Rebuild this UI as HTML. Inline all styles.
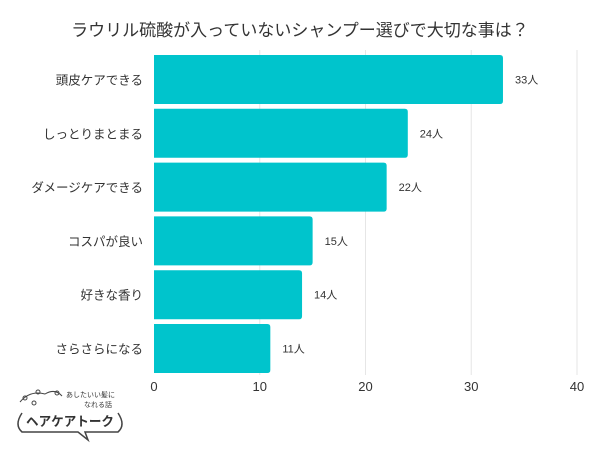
<!DOCTYPE html>
<html><head><meta charset="utf-8">
<style>
body{margin:0;background:#fff;width:600px;height:450px;overflow:hidden;font-family:"Liberation Sans","Noto Sans CJK JP",sans-serif;}
</style></head>
<body>
<svg width="600" height="450" id="chart">
<text x="300" y="36" text-anchor="middle" font-size="17" fill="#333">ラウリル硫酸が入っていないシャンプー選びで大切な事は？</text>
<g id="grid"></g><g id="bars"></g><g id="labels"></g>
<g>
<path d="M22 413 Q14 425 22 432 L78 432 L88 440 L85 432 L118 432 Q126 425 118 413" fill="none" stroke="#444" stroke-width="1.5"/>
<circle cx="25" cy="398" r="2" fill="none" stroke="#444"/><circle cx="38" cy="392" r="2" fill="none" stroke="#444"/><circle cx="34" cy="403" r="2" fill="none" stroke="#444"/><circle cx="57" cy="393" r="2" fill="none" stroke="#444"/>
<path d="M20 402 Q30 390 45 394 Q55 388 62 396" fill="none" stroke="#444"/>
<text x="66" y="397" font-size="7" fill="#333">あしたいい髪に</text>
<text x="84" y="407" font-size="7" fill="#333">なれる話</text>
<text x="26" y="426" font-size="13" font-weight="bold" fill="#333" textLength="88" lengthAdjust="spacingAndGlyphs">ヘアケアトーク</text>
</g>
</svg>
<script>
const categories=["頭皮ケアできる","しっとりまとまる","ダメージケアできる","コスパが良い","好きな香り","さらさらになる"];
const values=[33,24,22,15,14,11];
const ticks=[0,10,20,30,40];
const x0=154,x1=577,xmax=40;
const xs=v=>x0+(x1-x0)*v/xmax;
const yTop=55,step=53.8,bh=49;
const ns="http://www.w3.org/2000/svg";
const g=document.getElementById('grid'),b=document.getElementById('bars'),l=document.getElementById('labels');
function mk(t,a){const e=document.createElementNS(ns,t);for(const k in a)e.setAttribute(k,a[k]);return e;}
ticks.forEach(t=>{
 if(t>0){const ln=mk('line',{x1:xs(t),x2:xs(t),y1:50,y2:375,stroke:'#e6e6e6','stroke-width':1});
 
 g.appendChild(ln);}
 const tx=mk('text',{x:xs(t),y:391,'text-anchor':'middle','font-size':13,fill:'#333'});tx.textContent=t;
 
 l.appendChild(tx);
});
categories.forEach((c,i)=>{
 const y=yTop+i*step,w=xs(values[i])-x0;
 const r=mk('path',{d:`M${x0} ${y} H${x0+w-3} Q${x0+w} ${y} ${x0+w} ${y+3} V${y+bh-3} Q${x0+w} ${y+bh} ${x0+w-3} ${y+bh} H${x0} Z`,fill:'#00C4CC'});
 
 b.appendChild(r);
 const cl=mk('text',{x:143,y:y+bh/2+5,'text-anchor':'end','font-size':12.5,fill:'#333'});cl.textContent=c;
 
 l.appendChild(cl);
 const vl=mk('text',{x:x0+w+12,y:y+bh/2+4,'font-size':11,fill:'#333'});vl.textContent=values[i]+'人';
 
 l.appendChild(vl);
});
</script>
</body></html>
